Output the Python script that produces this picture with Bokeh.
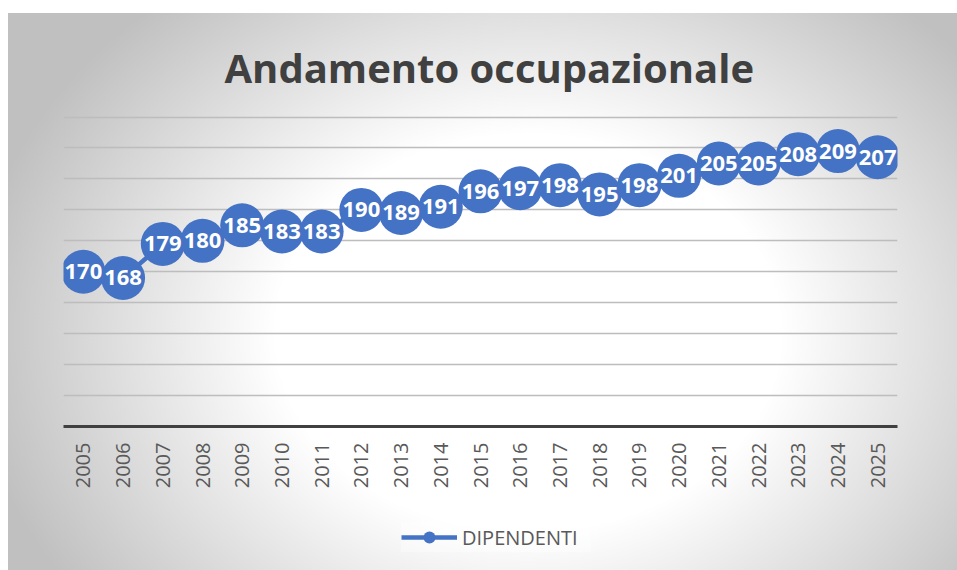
from bokeh.plotting import figure
from bokeh.models import (FactorRange, Range1d, FixedTicker, Legend, LegendItem,
                          ColumnDataSource, Spacer)
from bokeh.layouts import column, row
from bokeh.core.properties import value
from bokeh.embed import file_html
from bokeh.resources import INLINE

years = ["2005", "2006", "2007", "2008", "2009", "2010", "2011", "2012", "2013", "2014",
         "2015", "2016", "2017", "2018", "2019", "2020", "2021", "2022", "2023", "2024", "2025"]
dipendenti = [170, 168, 179, 180, 185, 183, 183, 190, 189, 191,
              196, 197, 198, 195, 198, 201, 205, 205, 208, 209, 207]
y_ticks = [120, 130, 140, 150, 160, 170, 180, 190, 200, 210, 220]
series_name = "DIPENDENTI"
title_text = "Andamento occupazionale"

BLUE = "#4472C4"
W = 949
H_MAIN = 500
H_LEG = 57
GX, GY = 520, 320  # gradient centre, px from the chart's top-left


def grad(dy):
    return {"background": f"radial-gradient(ellipse 560px 440px at {GX}px {GY - dy}px, "
                          f"#ffffff 45%, #c0c0c0 100%)"}


src = ColumnDataSource(dict(x=years, y=dipendenti, lab=[str(v) for v in dipendenti]))

p = figure(width=W, height=H_MAIN,
           x_range=FactorRange(*years, range_padding=0),
           y_range=Range1d(y_ticks[0], y_ticks[-1] + 0.5),
           output_backend="svg", toolbar_location=None,
           min_border_left=55, min_border_right=60,
           min_border_top=102, min_border_bottom=H_MAIN - 413)

p.styles = grad(0)
p.background_fill_color = None
p.border_fill_color = None
p.outline_line_color = None

# title
p.title.text = title_text
p.title.align = "left"
p.title.offset = 161
p.title.text_font = "Open Sans"
p.title.text_font_style = "bold"
p.title.text_font_size = "40px"
p.title.text_color = "#404040"
p.title.standoff = 42

# grid
p.xgrid.grid_line_color = None
p.ygrid.ticker = FixedTicker(ticks=y_ticks)
p.ygrid.grid_line_color = "#bdbdbd"
p.ygrid.grid_line_width = 1.5

p.yaxis.visible = False

xa = p.xaxis[0]
xa.axis_line_color = "#404040"
xa.axis_line_width = 3
xa.major_tick_line_color = None
xa.minor_tick_line_color = None
xa.major_tick_out = 0
xa.major_tick_in = 0
xa.major_label_orientation = 3.14159265 / 2
xa.major_label_standoff = 16
xa.major_label_text_font = "Open Sans"
xa.major_label_text_font_size = "20px"
xa.major_label_text_color = "#595959"

p.line("x", "y", source=src, line_color=BLUE, line_width=4.5)
p.scatter("x", "y", source=src, size=44, fill_color=BLUE, line_color=None)
p.text("x", "y", text="lab", source=src, text_color="white",
       text_font=value("Open Sans"), text_font_style="bold", text_font_size="22px",
       text_align="center", text_baseline="middle")

# legend strip (separate figure so the legend is not clipped by the main frame);
# the series is drawn here too but falls outside this strip's y range, so only
# its legend swatch shows
pl = figure(width=W, height=H_LEG,
            x_range=FactorRange(*years, range_padding=0), y_range=Range1d(0, 1),
            x_axis_type=None, y_axis_type=None, output_backend="svg",
            toolbar_location=None, min_border=0)
pl.styles = grad(H_MAIN)
pl.background_fill_color = None
pl.border_fill_color = None
pl.outline_line_color = None
pl.grid.visible = False
lr = pl.line("x", "y", source=src, line_color=BLUE, line_width=4.5)
dr = pl.scatter("x", "y", source=src, size=12, fill_color=BLUE, line_color=None)

legend = Legend(items=[LegendItem(label=series_name, renderers=[lr, dr])],
                location=(338, 18), orientation="horizontal", margin=0,
                glyph_width=56, glyph_height=30, label_standoff=5, padding=7,
                label_width=129,
                label_text_font="Open Sans", label_text_font_size="20px",
                label_text_color="#595959",
                background_fill_color="white", background_fill_alpha=0.35,
                border_line_color=None)
pl.add_layout(legend)

layout = column(Spacer(width=957, height=13),
                row(Spacer(width=8, height=H_MAIN + H_LEG),
                    column(p, pl, spacing=0)))

open("out.html", "w").write(file_html(layout, INLINE))
